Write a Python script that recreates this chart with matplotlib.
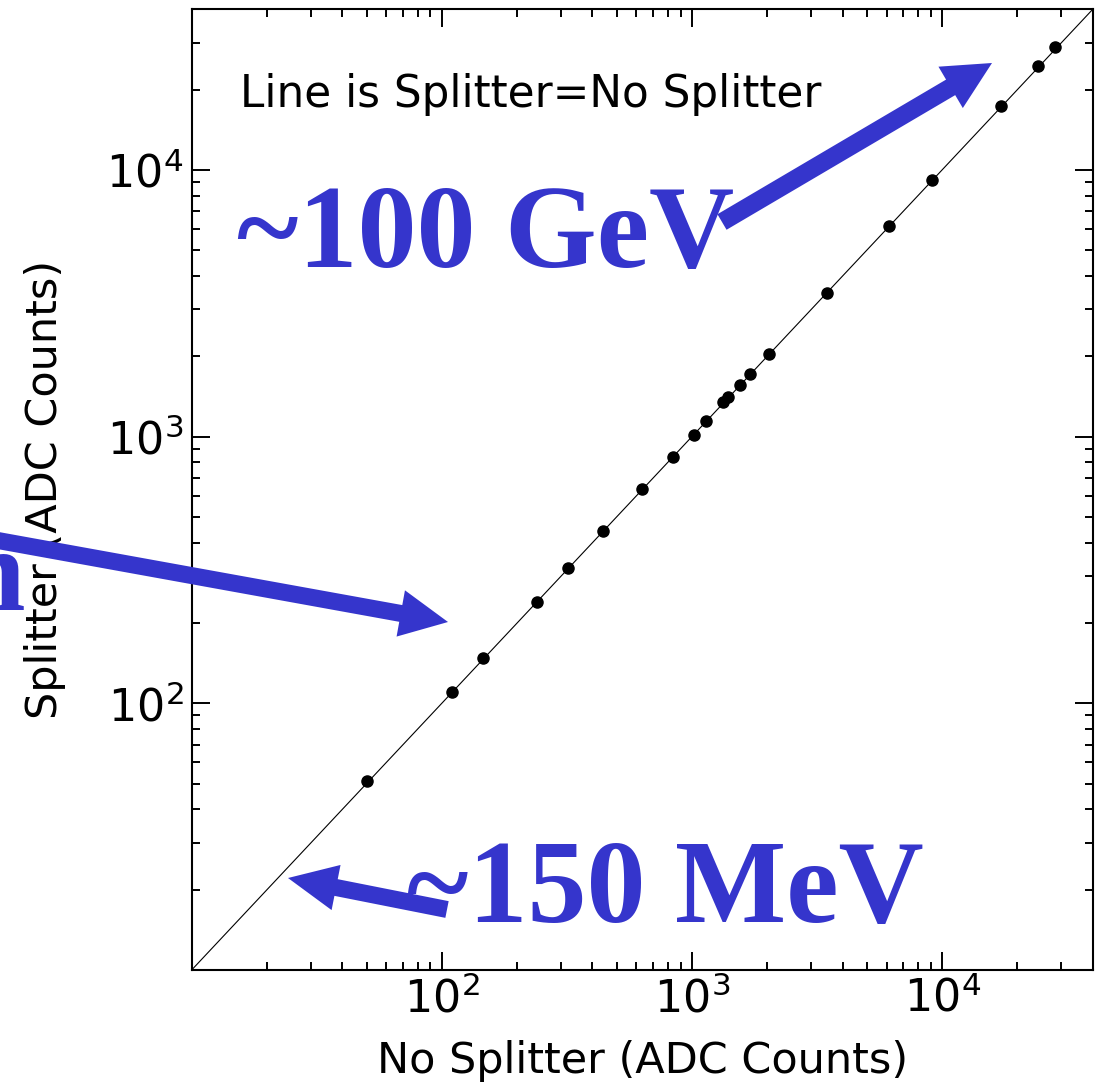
import matplotlib
matplotlib.use("Agg")
import matplotlib.pyplot as plt
from matplotlib.patches import FancyArrow

# ADC counts
no_splitter = [50, 110, 146, 241, 319, 441, 631, 843, 1016, 1135, 1327, 1393, 1552, 1706,
               2031, 3462, 6124, 9128, 17220, 24270, 28380]
splitter = [51, 110, 148, 239, 321, 443, 638, 841, 1016, 1143, 1347, 1406, 1560, 1721,
            2032, 3461, 6166, 9176, 17380, 24530, 28790]
diagonal = [10, 40000]
major_ticks = [100, 1000, 10000]

blue = "#3535cc"

fig = plt.figure(figsize=(10.98, 10.83), dpi=100)
ax = fig.add_axes([0.1746, 0.1044, 0.8206, 0.887])

ax.set_xscale("log")
ax.set_yscale("log")
ax.plot(diagonal, diagonal, color="black", lw=0.8)
ax.plot(no_splitter, splitter, "o", color="black", ms=8)
ax.set_xlim(10, 40000)
ax.set_ylim(10, 40000)
ax.set_xticks(major_ticks)
ax.set_yticks(major_ticks)

ax.tick_params(which="both", direction="in", top=True, right=True, width=1.4)
ax.tick_params(which="major", length=13, labelsize=32)
ax.tick_params(which="minor", length=6)
ax.tick_params(axis="x", pad=5)
ax.tick_params(axis="y", pad=6)
for s in ax.spines.values():
    s.set_linewidth(1.5)

ax.set_xlabel("No Splitter (ADC Counts)", fontsize=31)
ax.set_ylabel("Splitter (ADC Counts)", fontsize=31)
ax.xaxis.set_label_coords(0.5, -0.073)
ax.yaxis.set_label_coords(-0.1395, 0.5)

# texts and arrows in pixel-like units (inches at 100 dpi)
tr = fig.dpi_scale_trans
H = 10.83

fig.text(2.40, H - 1.07, "Line is Splitter=No Splitter", fontsize=31.5,
         transform=tr, va="baseline", ha="left")

big = dict(fontsize=85, color=blue, fontweight="bold", family="Liberation Serif",
           transform=tr, va="baseline")
fig.text(2.37, H - 2.67, "~100 GeV", ha="left", **big)
fig.text(4.07, H - 9.22, "~150 MeV", ha="left", **big)
fig.text(0.25, H - 6.10, "n", ha="right", **big)

arrows = [
    ((7.22, H - 2.22), (9.92, H - 0.63), 0.18, 0.48, 0.48),
    ((-0.60, H - 5.30), (4.48, H - 6.22), 0.17, 0.47, 0.48),
    ((4.47, H - 9.095), (2.88, H - 8.78), 0.17, 0.46, 0.49),
]
for (x0, y0), (x1, y1), w, hw, hl in arrows:
    fig.add_artist(FancyArrow(x0, y0, x1 - x0, y1 - y0, width=w, head_width=hw,
                              head_length=hl, length_includes_head=True,
                              color=blue, lw=0, transform=tr))

fig.savefig("out.png", dpi=100)
